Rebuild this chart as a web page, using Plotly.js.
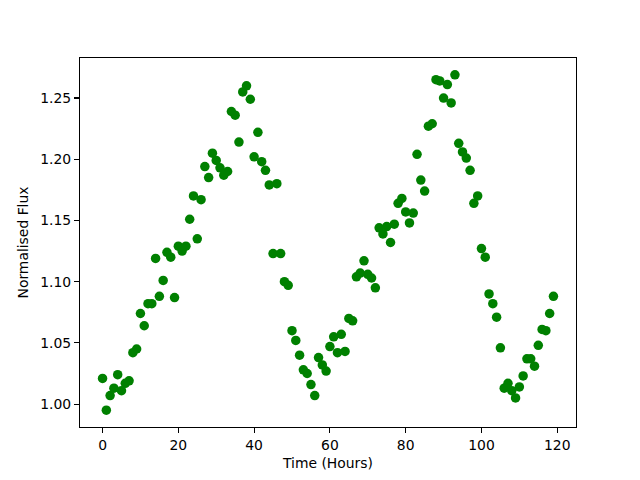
<!DOCTYPE html>
<html>
<head>
<meta charset="utf-8">
<script src="https://cdn.plot.ly/plotly-3.0.1.min.js"></script>
<style>html,body{margin:0;padding:0;background:#fff;}#chart{width:640px;height:480px;}</style>
</head>
<body>
<div id="chart"></div>
<script>
const hours = Array.from({length: 120}, (_, i) => i);
const flux = [
  1.021, 0.995, 1.007, 1.013, 1.024, 1.011, 1.017, 1.019, 1.042, 1.045,
  1.074, 1.064, 1.082, 1.082, 1.119, 1.088, 1.101, 1.124, 1.120, 1.087,
  1.129, 1.125, 1.129, 1.151, 1.170, 1.135, 1.167, 1.194, 1.185, 1.205,
  1.199, 1.193, 1.187, 1.190, 1.239, 1.236, 1.214, 1.255, 1.260, 1.249,
  1.202, 1.222, 1.198, 1.191, 1.179, 1.123, 1.180, 1.123, 1.100, 1.097,
  1.060, 1.052, 1.040, 1.028, 1.025, 1.016, 1.007, 1.038, 1.032, 1.027,
  1.047, 1.055, 1.042, 1.057, 1.043, 1.070, 1.068, 1.104, 1.107, 1.117,
  1.106, 1.103, 1.095, 1.144, 1.139, 1.145, 1.132, 1.147, 1.164, 1.168,
  1.157, 1.148, 1.156, 1.204, 1.183, 1.174, 1.227, 1.229, 1.265, 1.264,
  1.250, 1.261, 1.246, 1.269, 1.213, 1.206, 1.201, 1.191, 1.164, 1.170,
  1.127, 1.120, 1.090, 1.082, 1.071, 1.046, 1.013, 1.017, 1.011, 1.005,
  1.014, 1.023, 1.037, 1.037, 1.031, 1.048, 1.061, 1.060, 1.074, 1.088
];
const xLabel = "Time (Hours)";
const yLabel = "Normalised Flux";

function padRange(arr) {
  const mn = Math.min(...arr), mx = Math.max(...arr);
  const d = (mx - mn) * 0.05;
  return [mn - d, mx + d];
}

const font = {family: "DejaVu Sans", size: 13.9, color: "#000"};
const axisCommon = {
  showline: true, linecolor: "#000", linewidth: 1.1, mirror: true,
  ticks: "outside", ticklen: 4.9, tickwidth: 1.1, tickcolor: "#000",
  showgrid: false, zeroline: false, tickfont: font
};

Plotly.newPlot("chart", [{
  x: hours, y: flux, type: "scatter", mode: "markers",
  marker: {color: "#008000", size: 9.5, line: {width: 0}},
  hoverinfo: "skip"
}], {
  width: 640, height: 480,
  margin: {l: 80, r: 64, t: 57.6, b: 52.8, pad: 0},
  paper_bgcolor: "#fff", plot_bgcolor: "#fff",
  showlegend: false,
  font: font,
  xaxis: Object.assign({}, axisCommon, {
    range: padRange(hours), tickmode: "linear", tick0: 0, dtick: 20,
    title: {text: xLabel, font: font, standoff: 6}
  }),
  yaxis: Object.assign({}, axisCommon, {
    range: padRange(flux), tickmode: "linear", tick0: 1.0, dtick: 0.05, tickformat: ".2f",
    title: {text: yLabel, font: font, standoff: 8}
  })
}, {staticPlot: true, displayModeBar: false});
</script>
</body>
</html>
